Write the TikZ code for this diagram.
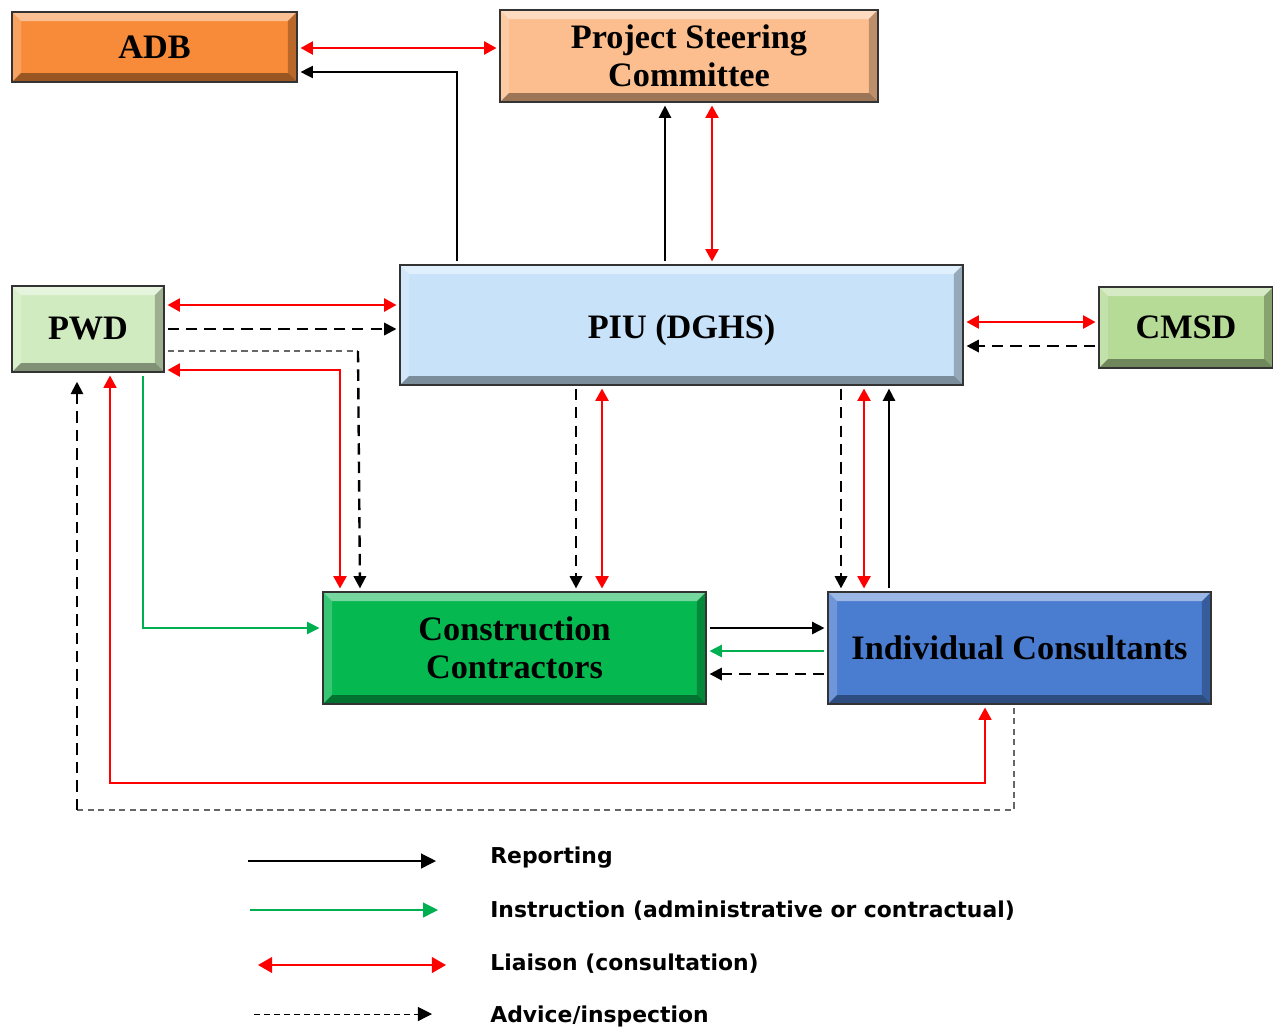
\documentclass[tikz,border=0pt]{standalone}
\usepackage{fontspec}
\usetikzlibrary{arrows.meta}

\newfontfamily\boxfam{Liberation Serif}
\newfontfamily\legfam{DejaVu Sans}

\definecolor{adbcol}{RGB}{247,139,57}
\definecolor{psccol}{RGB}{252,190,142}
\definecolor{pwdcol}{RGB}{209,235,192}
\definecolor{piucol}{RGB}{200,226,250}
\definecolor{cmsdcol}{RGB}{181,219,150}
\definecolor{cccol}{RGB}{6,184,80}
\definecolor{iccol}{RGB}{74,124,208}
\definecolor{instrgreen}{RGB}{0,176,80}

\tikzset{
  box/.style={draw=black!80, line width=1.1pt, inner sep=0pt, align=center,
    font={\boxfam\bfseries\fontsize{19.5}{21.5}\selectfont},
    path picture={
      \coordinate (bnw) at (path picture bounding box.north west);
      \coordinate (bse) at (path picture bounding box.south east);
      \fill[white, opacity=0.45] (bnw) -- (bnw -| bse) -- ([shift={(-0.18cm,-0.18cm)}]bnw -| bse) -- ([shift={(0.18cm,-0.18cm)}]bnw) -- cycle;
      \fill[white, opacity=0.2] (bnw) -- ([shift={(0.18cm,-0.18cm)}]bnw) -- ([shift={(0.18cm,0.18cm)}]bnw |- bse) -- (bnw |- bse) -- cycle;
      \fill[black, opacity=0.38] (bnw |- bse) -- (bse) -- ([shift={(-0.18cm,0.18cm)}]bse) -- ([shift={(0.18cm,0.18cm)}]bnw |- bse) -- cycle;
      \fill[black, opacity=0.25] (bse) -- (bnw -| bse) -- ([shift={(-0.18cm,-0.18cm)}]bnw -| bse) -- ([shift={(-0.18cm,0.18cm)}]bse) -- cycle;
    }},
  conn/.style={shorten >=1.5pt, shorten <=1.5pt},
  report/.style={conn, black, line width=0.9pt, -{Triangle[length=7pt,width=7pt]}},
  instr/.style={conn, instrgreen, line width=1pt, -{Triangle[length=7pt,width=7pt]}},
  liaison/.style={conn, red, line width=1pt, {Triangle[length=7pt,width=7.5pt]}-{Triangle[length=7pt,width=7.5pt]}},
  advice/.style={conn, black, line width=1.35pt, dash pattern=on 6.5pt off 4pt, -{Triangle[length=7pt,width=7pt]}},
  advicethin/.style={conn, black!60, line width=0.6pt, dash pattern=on 3.5pt off 2.5pt},
  legendtext/.style={font={\legfam\bfseries\fontsize{12.45}{14}\selectfont}, anchor=base west, inner sep=0pt},
}

\begin{document}
\begin{tikzpicture}[x=0.02cm, y=-0.02cm]
    \useasboundingbox (0,0) rectangle (1273,1029);
    \clip (0,0) rectangle (1273,1029);

    % Boxes
    \node[box, fill=adbcol, minimum width=5.7cm, minimum height=1.4cm] at (154.5, 47) (adb) {ADB};
    \node[box, fill=psccol, minimum width=7.56cm, minimum height=1.84cm] at (689, 56) (psc) {Project Steering\\Committee};
    \node[box, fill=pwdcol, minimum width=3.04cm, minimum height=1.72cm] at (88, 329) (pwd) {PWD};
    \node[box, fill=piucol, minimum width=11.26cm, minimum height=2.4cm] at (681.5, 325) (piu) {\raisebox{-0.1cm}[\height][\depth]{PIU (DGHS)}};
    \node[box, fill=cmsdcol, minimum width=3.48cm, minimum height=1.62cm] at (1186, 327.5) (cmsd) {CMSD};
    \node[box, fill=cccol, minimum width=7.66cm, minimum height=2.24cm] at (514.5, 648) (cc) {Construction\\Contractors};
    \node[box, fill=iccol, minimum width=7.66cm, minimum height=2.24cm] at (1019.5, 648) (ic) {Individual Consultants};

    % Top
    \draw[liaison] (adb.east |- 0,48) -- (psc.west |- 0,48);
    \draw[report, line width=0.6pt] (piu.north -| 457,0) |- (adb.east |- 0,72);
    \draw[report] (piu.north -| 665,0) -- (psc.south -| 665,0);
    \draw[liaison] (psc.south -| 712,0) -- (piu.north -| 712,0);

    % PWD
    \draw[liaison] (pwd.east |- 0,305) -- (piu.west |- 0,305);
    \draw[advice] (pwd.east |- 0,329) -- (piu.west |- 0,329);
    \coordinate (pwdbend) at (358,351);
    \draw[advicethin, shorten >=0pt] (pwd.east |- 0,351) -- (pwdbend);
    \draw[advice, shorten <=0pt] (pwdbend) -- (cc.north -| 360,0);
    \draw[liaison] (pwd.east |- 0,370) -| (cc.north -| 340,0);
    \draw[instr, line width=0.6pt] (pwd.south -| 143,0) |- (cc.west |- 0,628);

    % PIU down
    \draw[advice] (piu.south -| 576,0) -- (cc.north -| 576,0);
    \draw[liaison] (piu.south -| 602,0) -- (cc.north -| 602,0);
    \draw[advice] (piu.south -| 841,0) -- (ic.north -| 841,0);
    \draw[liaison] (piu.south -| 864,0) -- (ic.north -| 864,0);
    \draw[report] (ic.north -| 889,0) -- (piu.south -| 889,0);

    % CMSD
    \draw[liaison] (piu.east |- 0,322) -- (cmsd.west |- 0,322);
    \draw[advice] (cmsd.west |- 0,346) -- (piu.east |- 0,346);

    % CC and IC
    \draw[report] (cc.east |- 0,628) -- (ic.west |- 0,628);
    \draw[instr] (ic.west |- 0,651) -- (cc.east |- 0,651);
    \draw[advice] (ic.west |- 0,674) -- (cc.east |- 0,674);

    % Bottom loops
    \draw[liaison, line width=0.6pt] (pwd.south -| 110,0) |- (985,783) -- (ic.south -| 985,0);
    \coordinate (pwdlow) at (77,810);
    \draw[advicethin, shorten >=0pt] (ic.south -| 1014,0) |- (pwdlow);
    \draw[advice, shorten <=0pt, shorten >=5pt, line width=1.1pt] (pwdlow) -- (pwd.south -| 77,0);

    % Legend
    \node[legendtext] at (490, 863) (rep) {Reporting};
    \node[legendtext] at (490, 917) (ins) {Instruction (administrative or contractual)};
    \node[legendtext] at (490, 970) (lia) {Liaison (consultation)};
    \node[legendtext] at (490, 1022) (adv) {Advice/inspection};

    \draw[report, shorten <=0pt, shorten >=0pt, line width=0.7pt, -{Triangle[length=8.5pt,width=8.5pt]}] ([yshift=0.04cm]rep.base west -| 248,0) -- ([yshift=0.04cm]rep.base west -| 436,0);
    \draw[instr, shorten <=0pt, shorten >=0pt, line width=0.7pt, -{Triangle[length=8.5pt,width=8.5pt]}] ([yshift=0.14cm]ins.base west -| 250,0) -- ([yshift=0.14cm]ins.base west -| 438,0);
    \draw[liaison, shorten <=0pt, shorten >=0pt, line width=0.8pt, {Triangle[length=8pt,width=9pt]}-{Triangle[length=8pt,width=9pt]}] ([yshift=0.1cm]lia.base west -| 258,0) -- ([yshift=0.1cm]lia.base west -| 446,0);
    \draw[black, line width=0.6pt, dash pattern=on 3.4pt off 2.3pt, -{Triangle[length=8pt,width=8pt]}] ([yshift=0.16cm]adv.base west -| 254,0) -- ([yshift=0.16cm]adv.base west -| 432,0);

\end{tikzpicture}
\end{document}
